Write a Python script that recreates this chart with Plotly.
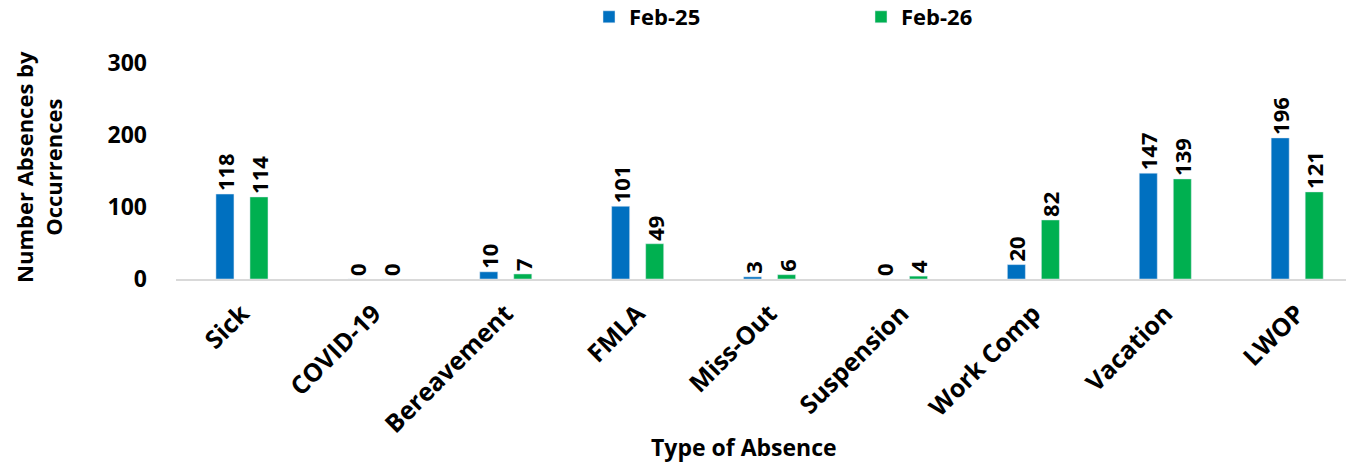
import plotly.graph_objects as go

categories = ["Sick", "COVID-19", "Bereavement", "FMLA", "Miss-Out", "Suspension", "Work Comp", "Vacation", "LWOP"]
feb25 = [118, 0, 10, 101, 3, 0, 20, 147, 196]
feb26 = [114, 0, 7, 49, 6, 4, 82, 139, 121]
series_names = ["Feb-25", "Feb-26"]
colors = ["#0070C0", "#00B050"]
y_ticks = [0, 100, 200, 300]

FONT = "Open Sans"

fig = go.Figure()
for name, vals, col in zip(series_names, [feb25, feb26], colors):
    fig.add_trace(go.Bar(
        x=categories, y=vals, name=name, marker_color=col,
        text=[str(v) for v in vals], textposition="outside", textangle=-90,
        constraintext="none",
        textfont=dict(family=FONT, size=22, color="black", weight="bold"),
        cliponaxis=False,
    ))

fig.update_layout(
    width=1348, height=465,
    margin=dict(l=176, r=2, t=63, b=186, autoexpand=False),
    paper_bgcolor="white", plot_bgcolor="white",
    barmode="group", bargap=0.484, bargroupgap=0.47,
    font=dict(family=FONT, color="black"),
    legend=dict(orientation="h", x=0.353, xanchor="left", y=1.213, yanchor="middle",
                font=dict(family=FONT, size=22, weight="bold"),
                itemwidth=30, entrywidth=227, traceorder="normal"),
    annotations=[
        dict(text="Type of Absence", xref="paper", yref="paper", x=0.4855, y=-0.778,
             xanchor="center", yanchor="middle", showarrow=False,
             font=dict(family=FONT, size=23, weight="bold", color="black")),
        dict(text="Number Absences by<br>Occurrences", xref="paper", yref="paper", x=-0.118, y=0.5185,
             xanchor="center", yanchor="middle", showarrow=False, textangle=-90,
             font=dict(family=FONT, size=22, weight="bold", color="black")),
    ],
)
fig.update_xaxes(
    automargin=False, range=[-0.5, 8.37],
    tickangle=-45, tickfont=dict(family=FONT, size=25, weight="bold"),
    showline=True, linecolor="#D9D9D9", linewidth=2, ticks="", ticklabelstandoff=8,
)
fig.update_yaxes(
    automargin=False,
    range=[0, 300], tickvals=y_ticks, showgrid=False, zeroline=False,
    showline=False, tickfont=dict(family=FONT, size=23, weight="bold"), ticklabelstandoff=28,
)
fig.write_html("out.html", config={"displayModeBar": False},
               post_script="document.body.style.margin='0';")
